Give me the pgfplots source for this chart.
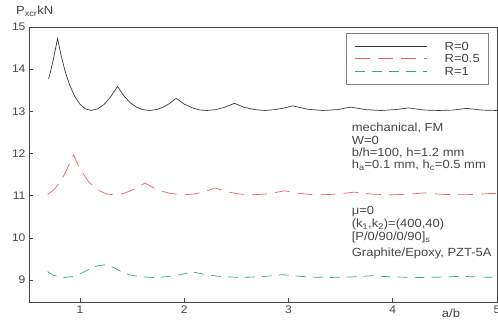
\documentclass[border=0pt]{standalone}
\usepackage{fontspec}
\setmainfont{Liberation Sans}[FakeStretch=1.1]
\usepackage{pgfplots}
\pgfplotsset{compat=1.18}
\definecolor{axgray}{RGB}{70,70,70}
\definecolor{cR0}{RGB}{60,60,60}
\definecolor{cR05}{RGB}{238,100,100}
\definecolor{cR1}{RGB}{50,175,100}
\begin{document}
\begin{tikzpicture}
\begin{axis}[
  scale only axis, width=468pt, height=275pt,
  xmin=0.511, xmax=5.0, ymin=8.478, ymax=15,
  xtick={1,2,3,4,5}, ytick={9,10,11,12,13,14,15},
  tick pos=left, major tick length=4pt,
  axis line style={axgray, line width=0.6pt},
  tick style={axgray, line width=0.6pt},
  /pgf/number format/assume math mode=true,
  ticklabel style={font=\fontsize{11}{13}\selectfont, text=axgray},
  clip mode=individual,
  legend style={at={(0.983,0.978)}, anchor=north east, draw=gray, line width=0.6pt,
    inner xsep=9pt, inner ysep=9pt, row sep=4pt, column sep=17pt,
    font=\fontsize{11.8}{13}\selectfont, text=axgray,
    nodes={inner sep=0pt, text height=8.3pt, text depth=0pt}},
  legend cell align=left,
  legend image code/.code={\draw[#1] (0pt,0pt) -- (72pt,0pt);},
]
\addplot[cR0, line width=0.7pt] coordinates {
(0.70,13.77) (0.72,13.97) (0.74,14.18) (0.76,14.42) (0.785,14.73) (0.82,14.31) (0.86,13.93) (0.90,13.63) (0.95,13.35) (1.00,13.17) (1.05,13.06) (1.11,13.02) (1.17,13.06) (1.23,13.16) (1.29,13.33) (1.36,13.59) (1.42,13.37) (1.48,13.21) (1.54,13.10) (1.60,13.04) (1.665,13.02) (1.73,13.04) (1.79,13.09) (1.855,13.18) (1.922,13.31) (2.00,13.17) (2.08,13.08) (2.15,13.03) (2.22,13.02) (2.30,13.04) (2.38,13.09) (2.482,13.19) (2.58,13.09) (2.68,13.04) (2.775,13.02) (2.87,13.04) (2.96,13.08) (3.04,13.13) (3.18,13.05) (3.33,13.02) (3.47,13.04) (3.597,13.10) (3.74,13.04) (3.885,13.02) (4.02,13.04) (4.152,13.08) (4.30,13.03) (4.44,13.02) (4.58,13.03) (4.71,13.07) (4.85,13.03) (5.00,13.02)
};
\addlegendentry{R=0}
\addplot[cR05, line width=0.7pt, dash pattern=on 15pt off 8pt] coordinates {
(0.69,11.03) (0.75,11.14) (0.80,11.29) (0.85,11.50) (0.895,11.73) (0.938,11.97) (0.98,11.74) (1.03,11.52) (1.08,11.34) (1.14,11.20) (1.20,11.10) (1.26,11.04) (1.326,11.02) (1.40,11.04) (1.47,11.10) (1.55,11.19) (1.624,11.30) (1.70,11.19) (1.78,11.11) (1.87,11.05) (1.989,11.02) (2.10,11.04) (2.20,11.10) (2.297,11.18) (2.40,11.10) (2.52,11.04) (2.652,11.02) (2.80,11.04) (2.965,11.115) (3.08,11.06) (3.20,11.03) (3.315,11.02) (3.47,11.036) (3.631,11.083) (3.80,11.036) (3.978,11.02) (4.14,11.032) (4.297,11.065) (4.47,11.031) (4.641,11.02) (4.80,11.029) (4.961,11.054) (5.00,11.046)
};
\addlegendentry{R=0.5}
\addplot[cR1, line width=0.7pt, dash pattern=on 10pt off 7pt] coordinates {
(0.69,9.20) (0.74,9.12) (0.79,9.077) (0.85,9.06) (0.92,9.08) (0.99,9.135) (1.06,9.22) (1.12,9.29) (1.17,9.335) (1.22,9.355) (1.27,9.35) (1.32,9.30) (1.37,9.23) (1.43,9.157) (1.50,9.11) (1.58,9.077) (1.70,9.06) (1.82,9.075) (1.95,9.12) (2.082,9.19) (2.20,9.13) (2.35,9.081) (2.55,9.06) (2.75,9.078) (2.944,9.126) (3.10,9.087) (3.25,9.067) (3.40,9.06) (3.60,9.07) (3.80,9.10) (4.00,9.072) (4.25,9.06) (4.45,9.067) (4.655,9.087) (4.80,9.072) (5.00,9.061)
};
\addlegendentry{R=1}
\begin{scope}[font=\fontsize{11.8}{13}\selectfont, text=axgray]
\node[anchor=base west, inner sep=0pt] at (axis cs:3.606,12.524) {mechanical, FM};
\node[anchor=base west, inner sep=0pt] at (axis cs:3.606,12.214) {W=0};
\node[anchor=base west, inner sep=0pt] at (axis cs:3.606,11.930) {b/h=100, h=1.2 mm};
\node[anchor=base west, inner sep=0pt] at (axis cs:3.606,11.643) {h\textsubscript{a}=0.1 mm, h\textsubscript{c}=0.5 mm};
\node[anchor=base west, inner sep=0pt] at (axis cs:3.606,10.548) {μ=0};
\node[anchor=base west, inner sep=0pt] at (axis cs:3.606,10.238) {(k\textsubscript{1},k\textsubscript{2})=(400,40)};
\node[anchor=base west, inner sep=0pt] at (axis cs:3.606,9.929) {[P/0/90/0/90]\textsubscript{s}};
\node[anchor=base west, inner sep=0pt] at (axis cs:3.606,9.548) {Graphite/Epoxy, PZT-5A};
\node[anchor=base west, inner sep=0pt] at (axis cs:0.386,15.285) {P\textsubscript{xcr}kN};
\node[anchor=base west, inner sep=0pt] at (axis cs:4.47,8.122) {a/b};
\end{scope}
\end{axis}
\pgfresetboundingbox
\path[use as bounding box] (-29pt,-21pt) rectangle (469pt,302pt);
\end{tikzpicture}
\end{document}
